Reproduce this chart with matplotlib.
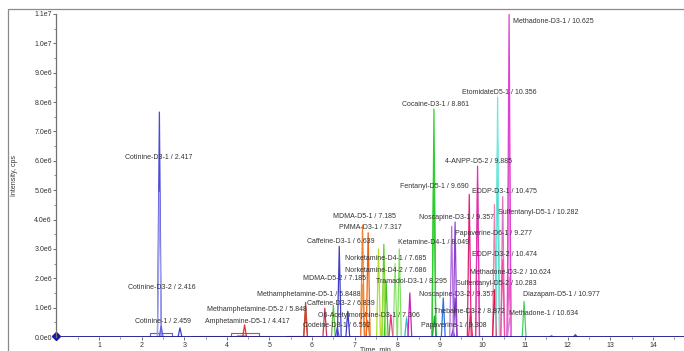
import matplotlib.pyplot as plt
from matplotlib.ticker import MultipleLocator, FuncFormatter
from matplotlib.patches import Rectangle

plt.rcParams['font.family'] = ['Liberation Sans', 'DejaVu Sans']

# labelled peaks: name, retention time (min), apex intensity (cps), trace colour
names = ['Cotinine-D3-1', 'Cotinine-D3-2', 'Cotinine-1', 'Amphetamine-D5-1',
         'Methamphetamine-D5-2', 'Methamphetamine-D5-1', 'Caffeine-D3-2', 'Codeine-D3-1',
         'O6-Acetylmorphine-D3-1', 'MDMA-D5-2', 'Caffeine-D3-1', 'MDMA-D5-1',
         'PMMA-D3-1', 'Norketamine-D4-1', 'Norketamine-D4-2', 'Ketamine-D4-1',
         'Tramadol-D3-1', 'Cocaine-D3-1', 'Thebaine-D3-2', 'Papaverine-1',
         'Noscapine-D3-2', 'Noscapine-D3-1', 'Papaverine-D6-1', 'Fentanyl-D5-1',
         '4-ANPP-D5-2', 'Sulfentanyl-D5-1', 'Sulfentanyl-D5-2', 'EtomidateD5-1',
         'EDDP-D3-1', 'EDDP-D3-2', 'Methadone-D3-1', 'Methadone-D3-2',
         'Methadone-1', 'Diazapam-D5-1']
rt_text = ['2.417', '2.416', '2.459', '4.417', '5.848', '5.8488', '6.839', '6.592',
           '7.306', '7.185', '6.639', '7.185', '7.317', '7.685', '7.686', '8.049',
           '8.295', '8.861', '8.872', '9.308', '9.357', '9.357', '9.277', '9.690',
           '9.885', '10.282', '10.283', '10.356', '10.475', '10.474', '10.625', '10.624',
           '10.634', '10.977']
heights = [7.66e6, 4.93e6, 0.37e6, 0.41e6, 0.875e6, 1.18e6, 0.875e6, 0.32e6,
           0.57e6, 1.79e6, 3.085e6, 3.81e6, 3.55e6, 3.15e6, 2.19e6, 3.0e6,
           1.50e6, 7.76e6, 0.71e6, 0.24e6, 1.33e6, 3.915e6, 3.77e6, 4.855e6,
           5.82e6, 4.51e6, 1.61e6, 8.165e6, 4.78e6, 2.63e6, 11.0e6, 2.05e6,
           0.65e6, 1.21e6]
colors = ['#4b4bd6', '#a0a0ec', '#6060e0', '#e03030', '#e04040', '#c84a30', '#3a3ad0',
          '#5050e0', '#f08020', '#f0a050', '#4040c8', '#f08030', '#f06010', '#60d020',
          '#a0e040', '#80e060', '#d020c0', '#30d030', '#20a040', '#8040d0', '#7030c0',
          '#9040d0', '#b070e0', '#e0207a', '#e030b0', '#f080b0', '#e01040', '#70e8e0',
          '#e070c0', '#f050a0', '#e040d0', '#f060c0', '#e080e0', '#40d060']

# where each peak label sits (left edge in min, centre in cps)
label_x = [1.61, 1.68, 1.845, 3.49, 3.535, 4.71, 5.88, 5.79, 6.14, 5.79, 5.88, 6.49,
           6.63, 6.775, 6.775, 8.02, 7.50, 8.11, 8.865, 8.56, 8.51, 8.51, 9.36, 8.07,
           9.12, 10.37, 9.38, 9.52, 9.75, 9.75, 10.71, 9.71, 10.62, 10.95]
label_y = [6.115e6, 1.674e6, 0.512e6, 0.512e6, 0.922e6, 1.435e6, 1.127e6, 0.386e6,
           0.717e6, 1.982e6, 3.256e6, 4.10e6, 3.724e6, 2.675e6, 2.255e6, 3.211e6,
           1.889e6, 7.926e6, 0.854e6, 0.386e6, 1.459e6, 4.066e6, 3.529e6, 5.125e6,
           5.979e6, 4.247e6, 1.811e6, 8.336e6, 4.954e6, 2.801e6, 10.738e6, 2.197e6,
           0.786e6, 1.445e6]

# other traces without labels
extra_rt = [2.90, 6.30, 6.50, 7.56, 7.74, 7.85, 7.95, 8.22, 8.86, 9.08, 9.72,
            9.885, 10.356, 10.625, 10.625, 11.62, 12.18]
extra_h = [0.31e6, 0.98e6, 1.08e6, 3.0e6, 1.89e6, 0.755e6, 2.5e6, 0.65e6, 6.34e6,
           1.33e6, 0.875e6, 5.23e6, 6.65e6, 7.36e6, 5.64e6, 0.05e6, 0.08e6]
extra_colors = ['#4040d0', '#d03060', '#60c040', '#b0e020', '#40c030', '#f03080',
                '#90e070', '#20c0c0', '#20c020', '#3070e0', '#f02050', '#f070c0',
                '#30c0a0', '#d080e0', '#f0a0e0', '#40a0e0', '#4040c0']

# flat step traces: start, end, level, colour
step_start = [2.20, 3.20, 4.10, 4.25, 5.40]
step_end = [2.72, 5.00, 4.75, 4.45, 6.00]
step_level = [0.12e6, 0.02e6, 0.15e6, 0.08e6, 0.05e6]
step_colors = ['#6060d0', '#f0a040', '#e04040', '#f0a040', '#e03030']

half_width = 0.045

fig = plt.figure(figsize=(6.84, 3.51), dpi=100)
fig.patches.append(Rectangle((8 / 684, -0.1), 1.2, (351 - 9) / 351 + 0.1,
                             transform=fig.transFigure, fill=False,
                             edgecolor='#8a8a8a', linewidth=0.9))
ax = fig.add_axes([56.4 / 684, 14 / 351, 627.6 / 684, 323 / 351])

for s, e, lv, c in zip(step_start, step_end, step_level, step_colors):
    ax.plot([s, s, e, e], [0, lv, lv, 0], color=c, lw=0.8)

for t, h, c in zip(extra_rt, extra_h, extra_colors):
    ax.plot([t - half_width, t, t + half_width], [0, h, 0], color=c, lw=0.9)

for r, h, c in zip(rt_text, heights, colors):
    t = float(r)
    ax.plot([t - half_width, t, t + half_width], [0, h, 0], color=c, lw=0.9)

for n, r, lx, ly in zip(names, rt_text, label_x, label_y):
    ax.text(lx, ly, f'{n} / {r}', fontsize=5, color='#333333', ha='left', va='center')

# baseline and the start marker
ax.plot([0, 14.73], [0, 0], color='#1a1a8c', lw=1.3)
ax.plot([0], [0.05e6], marker='D', color='#1a1aa0', markersize=4, clip_on=False)

ax.set_xlim(0, 14.73)
ax.set_ylim(0, 1.1e7)
for side in ['top', 'right', 'bottom']:
    ax.spines[side].set_visible(False)
ax.spines['left'].set_color('#707070')
ax.spines['left'].set_linewidth(0.9)

ax.xaxis.set_major_locator(MultipleLocator(1))
ax.xaxis.set_minor_locator(MultipleLocator(0.5))
ax.yaxis.set_major_locator(MultipleLocator(1e6))
ax.yaxis.set_minor_locator(MultipleLocator(5e5))
ax.xaxis.set_major_formatter(FuncFormatter(lambda v, p: '' if v == 0 else f'{v:.0f}'))

def sci_label(v, p):
    if v == 0:
        return '0.0e0'
    exp = len(str(int(round(v)))) - 1
    return f'{v / 10 ** exp:.1f}e{exp}'

ax.yaxis.set_major_formatter(FuncFormatter(sci_label))
ax.tick_params(axis='both', which='major', labelsize=5, colors='#555555',
               labelcolor='#333333', length=2.5, width=0.6, pad=0.8)
ax.tick_params(axis='both', which='minor', colors='#555555', length=1.6, width=0.5)

ax.set_ylabel('Intensity, cps', fontsize=5, color='#333333', labelpad=12)
ax.set_xlabel('Time, min', fontsize=5, color='#333333')
ax.xaxis.set_label_coords(0.508, -0.027)

fig.savefig('out.png', dpi=100)
